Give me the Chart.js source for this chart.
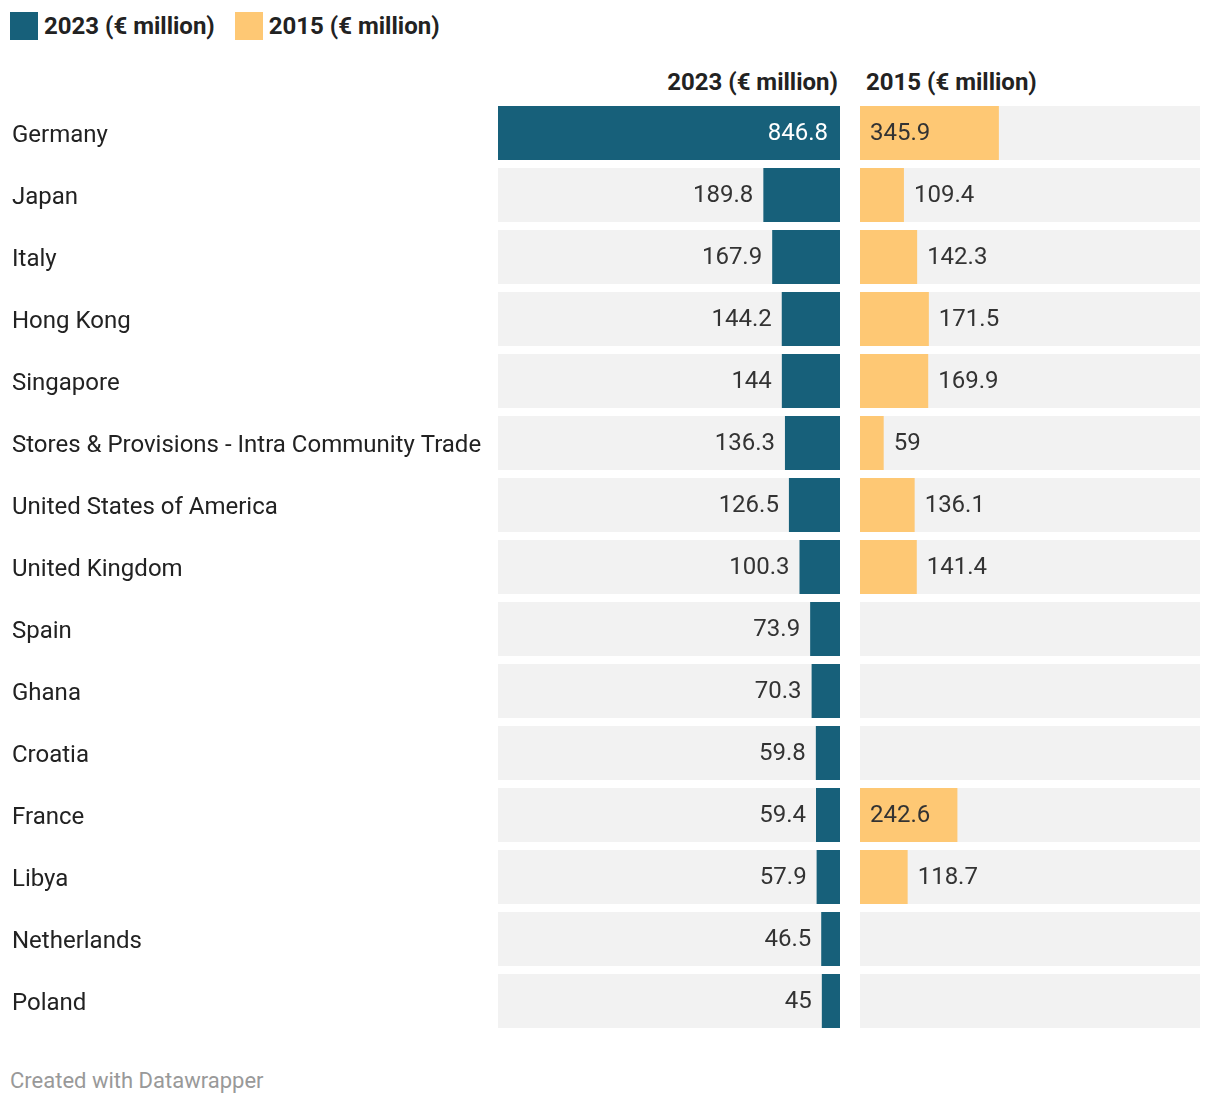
<!DOCTYPE html>
<html>
<head>
<meta charset="utf-8">
<script src="https://cdn.jsdelivr.net/npm/chart.js@4"></script>
<style>
  body { margin: 0; background: #fff; font-family: Roboto, sans-serif; color: #222; }
  #wrap { position: relative; width: 1220px; height: 1106px; }
  .abs { position: absolute; }
  .legend { top: 11px; left: 10px; display: flex; align-items: center; font-weight: 700; font-size: 24px; line-height: 30px; }
  .legend span.sq { display: inline-block; width: 28px; height: 28px; margin-right: 6px; }
  .legend span.item { display: flex; align-items: center; margin-right: 20px; }
  .head { top: 67px; font-weight: 700; font-size: 24px; line-height: 30px; color: #222; }
  .foot { left: 10px; top: 1066px; font-size: 22px; line-height: 30px; color: #999; }
</style>
</head>
<body>
<div id="wrap">
  <div class="abs legend">
    <span class="item"><span class="sq" style="background:#17607a"></span>2023 (€ million)</span>
    <span class="item"><span class="sq" style="background:#fec874"></span>2015 (€ million)</span>
  </div>
  <div class="abs head" style="right:382px">2023 (€ million)</div>
  <div class="abs head" style="left:866px">2015 (€ million)</div>
  <canvas id="left" class="abs" width="840" height="930" style="left:0;top:102px"></canvas>
  <canvas id="right" class="abs" width="340" height="930" style="left:860px;top:102px"></canvas>
  <div class="abs foot">Created with Datawrapper</div>
</div>
<script>
const countries = ["Germany", "Japan", "Italy", "Hong Kong", "Singapore",
  "Stores & Provisions - Intra Community Trade", "United States of America",
  "United Kingdom", "Spain", "Ghana", "Croatia", "France", "Libya", "Netherlands", "Poland"];
const v2023 = [846.8, 189.8, 167.9, 144.2, 144, 136.3, 126.5, 100.3, 73.9, 70.3, 59.8, 59.4, 57.9, 46.5, 45];
const v2015 = [345.9, 109.4, 142.3, 171.5, 169.9, 59, 136.1, 141.4, null, null, null, 242.6, 118.7, null, null];
const maxVal = 846.8;

const valueLabels = {
    id: 'valueLabels',
    afterDatasetsDraw(chart) {
        const ctx = chart.ctx;
        const meta = chart.getDatasetMeta(0);
        const vals = chart.data.datasets[0].data;
        const dark = chart.options.plugins.valueLabels.dark;
        ctx.save();
        ctx.font = '24px Roboto';
        ctx.textBaseline = 'middle';
        meta.data.forEach((el, i) => {
            const v = vals[i];
            if (v == null) return;
            const txt = String(v);
            const w = Math.abs(el.x - el.base);
            const tw = ctx.measureText(txt).width;
            const dir = el.x < el.base ? -1 : 1;
            ctx.textAlign = dir < 0 ? 'right' : 'left';
            if (w > tw + 24) {
                // fits inside the bar
                ctx.fillStyle = dark ? '#fff' : '#333';
                ctx.fillText(txt, el.base + dir * (dark ? 12 : 10), el.y + 1);
            } else {
                ctx.fillStyle = '#333';
                ctx.fillText(txt, el.x + dir * 10, el.y + 1);
            }
        });
        ctx.restore();
    }
};

const bgData = countries.map(() => maxVal);

const makeSets = (vals, color) => [
    { data: vals, backgroundColor: color, grouped: false, barPercentage: 0.871, categoryPercentage: 1 },
    { data: bgData, backgroundColor: '#f2f2f2', grouped: false, barPercentage: 0.871, categoryPercentage: 1 }
];

new Chart(document.getElementById('left'), {
    type: 'bar',
    data: { labels: countries, datasets: makeSets(v2023, '#17607a') },
    plugins: [valueLabels],
    options: {
        indexAxis: 'y',
        responsive: false,
        animation: false,
        layout: { padding: { left: 12, right: 0, top: 0, bottom: 0 } },
        plugins: { legend: { display: false }, tooltip: { enabled: false }, valueLabels: { dark: true } },
        scales: {
            x: { display: false, reverse: true, min: 0, max: maxVal },
            y: {
                grid: { display: false },
                border: { display: false },
                ticks: { crossAlign: 'far', padding: 0, labelOffset: 3, color: '#222', font: { family: 'Roboto', size: 24 } },
                afterFit: (scale) => {
                    scale.width = 486;
                    scale.paddingTop = 0;
                    scale.paddingBottom = 0;
                }
            }
        }
    }
});

new Chart(document.getElementById('right'), {
    type: 'bar',
    data: { labels: countries, datasets: makeSets(v2015, '#fec874') },
    plugins: [valueLabels],
    options: {
        indexAxis: 'y',
        responsive: false,
        animation: false,
        layout: { padding: 0 },
        plugins: { legend: { display: false }, tooltip: { enabled: false }, valueLabels: { dark: false } },
        scales: {
            x: { display: false, min: 0, max: maxVal },
            y: { display: false }
        }
    }
});
</script>
</body>
</html>
